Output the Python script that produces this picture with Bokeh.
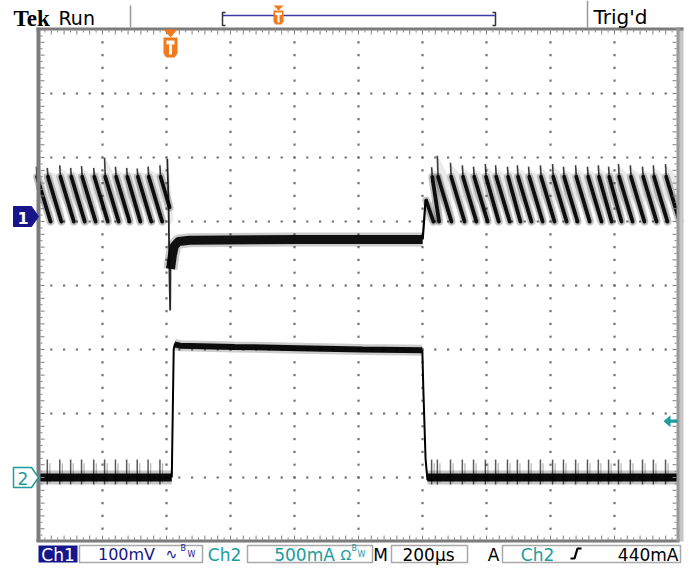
import numpy as np
from bokeh.plotting import figure
from bokeh.models import Range1d
from bokeh.core.properties import value
from bokeh.embed import file_html
from bokeh.resources import INLINE

time_per_div_us = 200
ch1_mv_per_div = 100
ch2_ma_per_div = 500
trigger_level_ma = 440
status_left = "Run"
status_right = "Trig'd"
ch1_scale_text = "100mV"
ch2_scale_text = "500mA"
time_scale_text = "200µs"
trigger_text = "440mA"

# channel 1 (voltage ripple): start time of each sawtooth tooth and spike top
ch1_teeth_before_us = [-419, -385, -346, -312, -278, -240, -206, -172, -137, -104, -70, -33]
ch1_spike_before_mv = [78, 76, 80, 76, 79, 76, 92, 78, 76, 75, 78, 80]
ch1_teeth_after_us = [797, 816, 834, 875, 912, 947, 984, 1016, 1053, 1084, 1119, 1156,
                      1194, 1228, 1266, 1303, 1337, 1369, 1400, 1437, 1475, 1509, 1547]
ch1_spike_after_mv = [25, 77, 95, 84, 80, 78, 82, 80, 78, 80, 78, 80,
                      82, 78, 80, 78, 80, 78, 82, 80, 78, 80, 82]
ch1_tooth_dark_mv = 62
ch1_tooth_base_mv = -8
ch1_fall_us = [-10, -6, -3, -1, 0]
ch1_fall_mv = [90, 20, -100, -147, -82]
ch1_low_us = [0, 6, 12, 25, 60, 400, 788]
ch1_low_mv = [-82, -60, -46, -39, -37, -36, -36]
ch1_rise_us = [788, 792, 797]
ch1_rise_mv = [-36, -10, 25]

# channel 2 (load current)
ch2_rise_us = [4, 7, 10, 14]
ch2_rise_ma = [0, 500, 1000, 1045]
ch2_high_us = [12, 30, 200, 400, 600, 787]
ch2_high_ma = [1040, 1030, 1020, 1010, 1000, 995]
ch2_fall_us = [787, 790, 797, 803, 808]
ch2_fall_ma = [995, 700, 150, -20, 0]
ch2_low_ma = 0
ch2_spike_top_ma = 140
ch2_spike_bottom_ma = -55

# ---------------- layout / styles ----------------
NAVY = "#16168a"
TEAL = "#1c9c9c"
ORANGE = "#f07a1c"
GRID = "#707070"
BORDER = "#7c7c7c"
TEXT_SHIFT = 5  # bokeh text sits a little low; compensate

def X(px):  # picture column -> microseconds (trigger at column 170)
    return (px - 170.0) * 3.125

def Y(py):  # picture row -> divisions from centre
    return (285.0 - py) / 64.0

CH1_POS = (285 - 216) / 64.0
CH2_POS = -3.0
GL = X(38)
GR = GL + 10 * time_per_div_us

def ch1(mv):
    return CH1_POS + np.asarray(mv, float) / ch1_mv_per_div

def ch2(ma):
    return CH2_POS + np.asarray(ma, float) / ch2_ma_per_div

p = figure(width=693, height=569, x_range=Range1d(X(0), X(693)), y_range=Range1d(Y(569), Y(0)),
           output_backend="svg", toolbar_location=None, min_border=0,
           x_axis_location=None, y_axis_location=None)
p.min_border_left = p.min_border_right = p.min_border_top = p.min_border_bottom = 0
p.outline_line_color = None
p.background_fill_color = "white"
p.border_fill_color = "white"
try:
    p.grid.visible = False
except Exception:
    pass

def quad_px(l, r, t, b, **kw):
    p.quad(left=[X(l)], right=[X(r)], top=[Y(t)], bottom=[Y(b)], **kw)

def line_px(xs, ys, **kw):
    p.line([X(v) for v in xs], [Y(v) for v in ys], **kw)

def patch_px(pts, **kw):
    p.patch([X(a) for a, b in pts], [Y(b) for a, b in pts], **kw)

def text_px(x, y, s, size, color, font="DejaVu Sans", style="normal", align="left"):
    p.text(x=[X(x)], y=[Y(y - TEXT_SHIFT)], text=[s], text_font=value(font), text_font_size=f"{size}px",
           text_font_style=style, text_color=color, text_align=align, text_baseline="alphabetic")

# ---------------- graticule dots ----------------
dxs, dys = [], []
for k in range(1, 10):
    for j in range(1, 40):
        dxs.append(GL + k * time_per_div_us)
        dys.append(-4 + j * 0.2)
for j in range(1, 8):
    for k in range(1, 50):
        dxs.append(GL + k * 0.2 * time_per_div_us)
        dys.append(-4 + j)
p.scatter(dxs, dys, marker="square", size=2.2, fill_color=GRID, line_color=None)

# ---------------- channel 1 sawtooth ----------------
STROKE_US = 44

def teeth(times, spikes, limit):
    hx, hy = [], []
    sx0, sy0, sx1, sy1 = [], [], [], []
    ux0, uy0, ux1, uy1 = [], [], [], []
    for i, t in enumerate(times):
        nxt = times[i + 1] if i + 1 < len(times) else t + 34
        L = min(STROKE_US, 1.3 * (nxt - t))
        end = min(t + L, limit)
        frac = (end - t) / L
        top = min(spikes[i], ch1_tooth_dark_mv)
        yend = top + (ch1_tooth_base_mv - top) * frac
        hx.append([t - 3, t + 8, t + 30, end + 12, end + 2, t + 2, t - 3])
        hy.append(list(ch1([spikes[i] - 2, spikes[i] - 6, top + 4, ch1_tooth_base_mv + 2,
                            ch1_tooth_base_mv - 6, top - 30, top - 10])))
        sx0.append(t + 2); sy0.append(ch1(top)); sx1.append(end); sy1.append(ch1(yend))
        ux0.append(t); uy0.append(ch1(spikes[i])); ux1.append(t + 2); uy1.append(ch1(top))
    p.patches(hx, hy, fill_color="#555555", fill_alpha=0.12, line_color=None)
    p.segment(sx0, sy0, sx1, sy1, line_color="black", line_alpha=0.22, line_width=8, line_cap="round")
    p.segment(ux0, uy0, ux1, uy1, line_color="black", line_alpha=0.75, line_width=1.6)
    p.segment(sx0, sy0, sx1, sy1, line_color="black", line_alpha=0.92, line_width=3.8, line_cap="round")

teeth(ch1_teeth_before_us, ch1_spike_before_mv, -3)
teeth(ch1_teeth_after_us, ch1_spike_after_mv, GR + 3)

p.line(ch1_fall_us, ch1(ch1_fall_mv), line_color="black", line_width=1.8, line_alpha=0.85)
p.line(ch1_low_us, ch1(ch1_low_mv), line_color="black", line_width=14, line_alpha=0.2, line_join="round")
p.line(ch1_low_us, ch1(ch1_low_mv), line_color="black", line_width=9, line_alpha=0.92, line_join="round")
p.line(ch1_rise_us, ch1(ch1_rise_mv), line_color="black", line_width=2.2)

# ---------------- channel 2 current ----------------
left_base = [GL, ch2_rise_us[0]]
right_base = [ch2_fall_us[-2], GR]
for xs in (left_base, right_base):
    p.line(xs, ch2([ch2_low_ma, ch2_low_ma]), line_color="black", line_width=14, line_alpha=0.22)
    p.line(xs, ch2([ch2_low_ma, ch2_low_ma]), line_color="black", line_width=8, line_alpha=0.95)
p.line(ch2_high_us, ch2(ch2_high_ma), line_color="black", line_width=11, line_alpha=0.2)
p.line(ch2_high_us, ch2(ch2_high_ma), line_color="black", line_width=6, line_alpha=0.95)
p.line(ch2_rise_us, ch2(ch2_rise_ma), line_color="black", line_width=2)
p.line(ch2_fall_us, ch2(ch2_fall_ma), line_color="black", line_width=2)

spike_t = [t for t in ch1_teeth_before_us if t > GL] + ch1_teeth_after_us[1:]
p.segment(spike_t, [ch2(ch2_spike_bottom_ma)] * len(spike_t), spike_t, [ch2(ch2_spike_top_ma)] * len(spike_t),
          line_color="black", line_width=1.5, line_alpha=0.65)
hair_t = [t + 8 for t in spike_t]
p.segment(hair_t, [ch2(ch2_spike_bottom_ma * 0.7)] * len(hair_t), hair_t, [ch2(ch2_spike_top_ma * 0.8)] * len(hair_t),
          line_color="black", line_width=1.2, line_alpha=0.3)

# ---------------- graticule border ----------------
quad_px(678, 683, 27, 541, fill_color="#c6c6c6", line_color=None)
quad_px(36, 683, 27, 30, fill_color=BORDER, line_color=None)
quad_px(36, 40, 27, 541, fill_color=BORDER, line_color=None)
quad_px(36, 679, 539, 542, fill_color=BORDER, line_color=None)
quad_px(676, 679, 27, 541, fill_color="#9a9a9a", line_color=None)

tx = [GL + k * 0.1 * time_per_div_us for k in range(1, 100)]
tl = [(4 if k % 2 == 0 else 2) for k in range(1, 100)]
p.segment(tx, [Y(30)] * 99, tx, [Y(30 + L) for L in tl], line_color="#808080", line_width=1)
p.segment(tx, [Y(539)] * 99, tx, [Y(539 - L) for L in tl], line_color="#808080", line_width=1)
ty = [-4 + k * 0.1 for k in range(1, 80)]
tl2 = [(4 if k % 2 == 0 else 2) for k in range(1, 80)]
p.segment([X(40)] * 79, ty, [X(40 + L) for L in tl2], ty, line_color="#808080", line_width=1)
p.segment([X(676)] * 79, ty, [X(676 - L) for L in tl2], ty, line_color="#808080", line_width=1)

# ---------------- markers ----------------
patch_px([(163, 29), (177, 29), (170, 37)], fill_color=ORANGE, line_color=None)
patch_px([(163, 37), (177, 37), (177, 53), (174, 57), (166, 57), (163, 53)], fill_color=ORANGE, line_color=None)
quad_px(166, 174, 40, 44, fill_color="white", line_color=None)
quad_px(168.5, 171.5, 44, 54, fill_color="white", line_color=None)

c1 = 285 - CH1_POS * 64
patch_px([(13, c1 - 10), (31, c1 - 10), (38, c1), (31, c1 + 10), (13, c1 + 10)], fill_color=NAVY, line_color=NAVY)
text_px(22.5, c1 + 6, "1", 16, "white", style="bold", align="center")
c2 = 285 - CH2_POS * 64
patch_px([(13, c2 - 10), (31, c2 - 10), (38, c2), (31, c2 + 10), (13, c2 + 10)], fill_color="white",
         line_color=TEAL, line_width=1.5)
text_px(22.5, c2 + 6, "2", 17, TEAL, align="center")
ct = 285 - float(ch2(trigger_level_ma)) * 64
patch_px([(663, ct), (670, ct - 6), (670, ct + 6)], fill_color=TEAL, line_color=None)
quad_px(669, 677, ct - 1.6, ct + 1.6, fill_color=TEAL, line_color=None)

# ---------------- top status bar ----------------
text_px(13, 23, "Tek", 23, "black", font="Liberation Serif", style="bold")
text_px(58, 22, status_left, 19, "black")
line_px([130, 130], [5, 27], line_color="#999999", line_width=1.5)
line_px([587, 587], [0, 27], line_color="#999999", line_width=1.5)
text_px(593, 21, status_right, 20, "black")
line_px([225, 222, 222, 225], [12, 12, 25, 25], line_color="#333333", line_width=1.5)
line_px([492, 495, 495, 492], [12, 12, 25, 25], line_color="#333333", line_width=1.5)
line_px([222, 495], [15, 15], line_color="#3a3aa8", line_width=1.5)
patch_px([(273, 5), (283, 5), (278, 10)], fill_color=ORANGE, line_color=None)
patch_px([(273, 10), (283, 10), (283, 21), (281, 24), (275, 24), (273, 21)], fill_color=ORANGE, line_color=None)
quad_px(274.5, 281.5, 12, 14.5, fill_color="white", line_color=None)
quad_px(277, 279, 14.5, 22, fill_color="white", line_color=None)

# ---------------- bottom readout bar ----------------
quad_px(38, 77, 545, 562, fill_color=NAVY, line_color=None)
text_px(57.5, 559, "Ch1", 17, "white", align="center")
quad_px(79, 202, 545, 562, fill_color="white", line_color="#a8a8a8", line_width=1.5)
text_px(126, 559, ch1_scale_text, 16, NAVY, align="center")
text_px(165, 558, "∿", 14, NAVY)
text_px(180, 553, "B", 8, NAVY)
text_px(187, 559, "W", 8, NAVY)
text_px(224, 559, "Ch2", 17, TEAL, align="center")
quad_px(247, 372, 545, 562, fill_color="white", line_color="#a8a8a8", line_width=1.5)
text_px(304, 559, ch2_scale_text, 17, TEAL, align="center")
text_px(340, 559, "Ω", 14, TEAL)
text_px(351, 553, "B", 8, TEAL)
text_px(357, 559, "W", 8, TEAL)
text_px(380, 559, "M", 17, "black", align="center")
quad_px(391, 467, 545, 562, fill_color="white", line_color="#a8a8a8", line_width=1.5)
text_px(428, 559, time_scale_text, 17, "black", align="center")
text_px(493, 559, "A", 17, "black", align="center")
quad_px(502, 680, 545, 562, fill_color="white", line_color="#a8a8a8", line_width=1.5)
text_px(537, 559, "Ch2", 17, TEAL, align="center")
line_px([570, 574, 577, 581], [558, 558, 548, 548], line_color="black", line_width=2.2)
text_px(678, 559, trigger_text, 17, "black", align="right")

open("out.html", "w").write(file_html(p, INLINE))
